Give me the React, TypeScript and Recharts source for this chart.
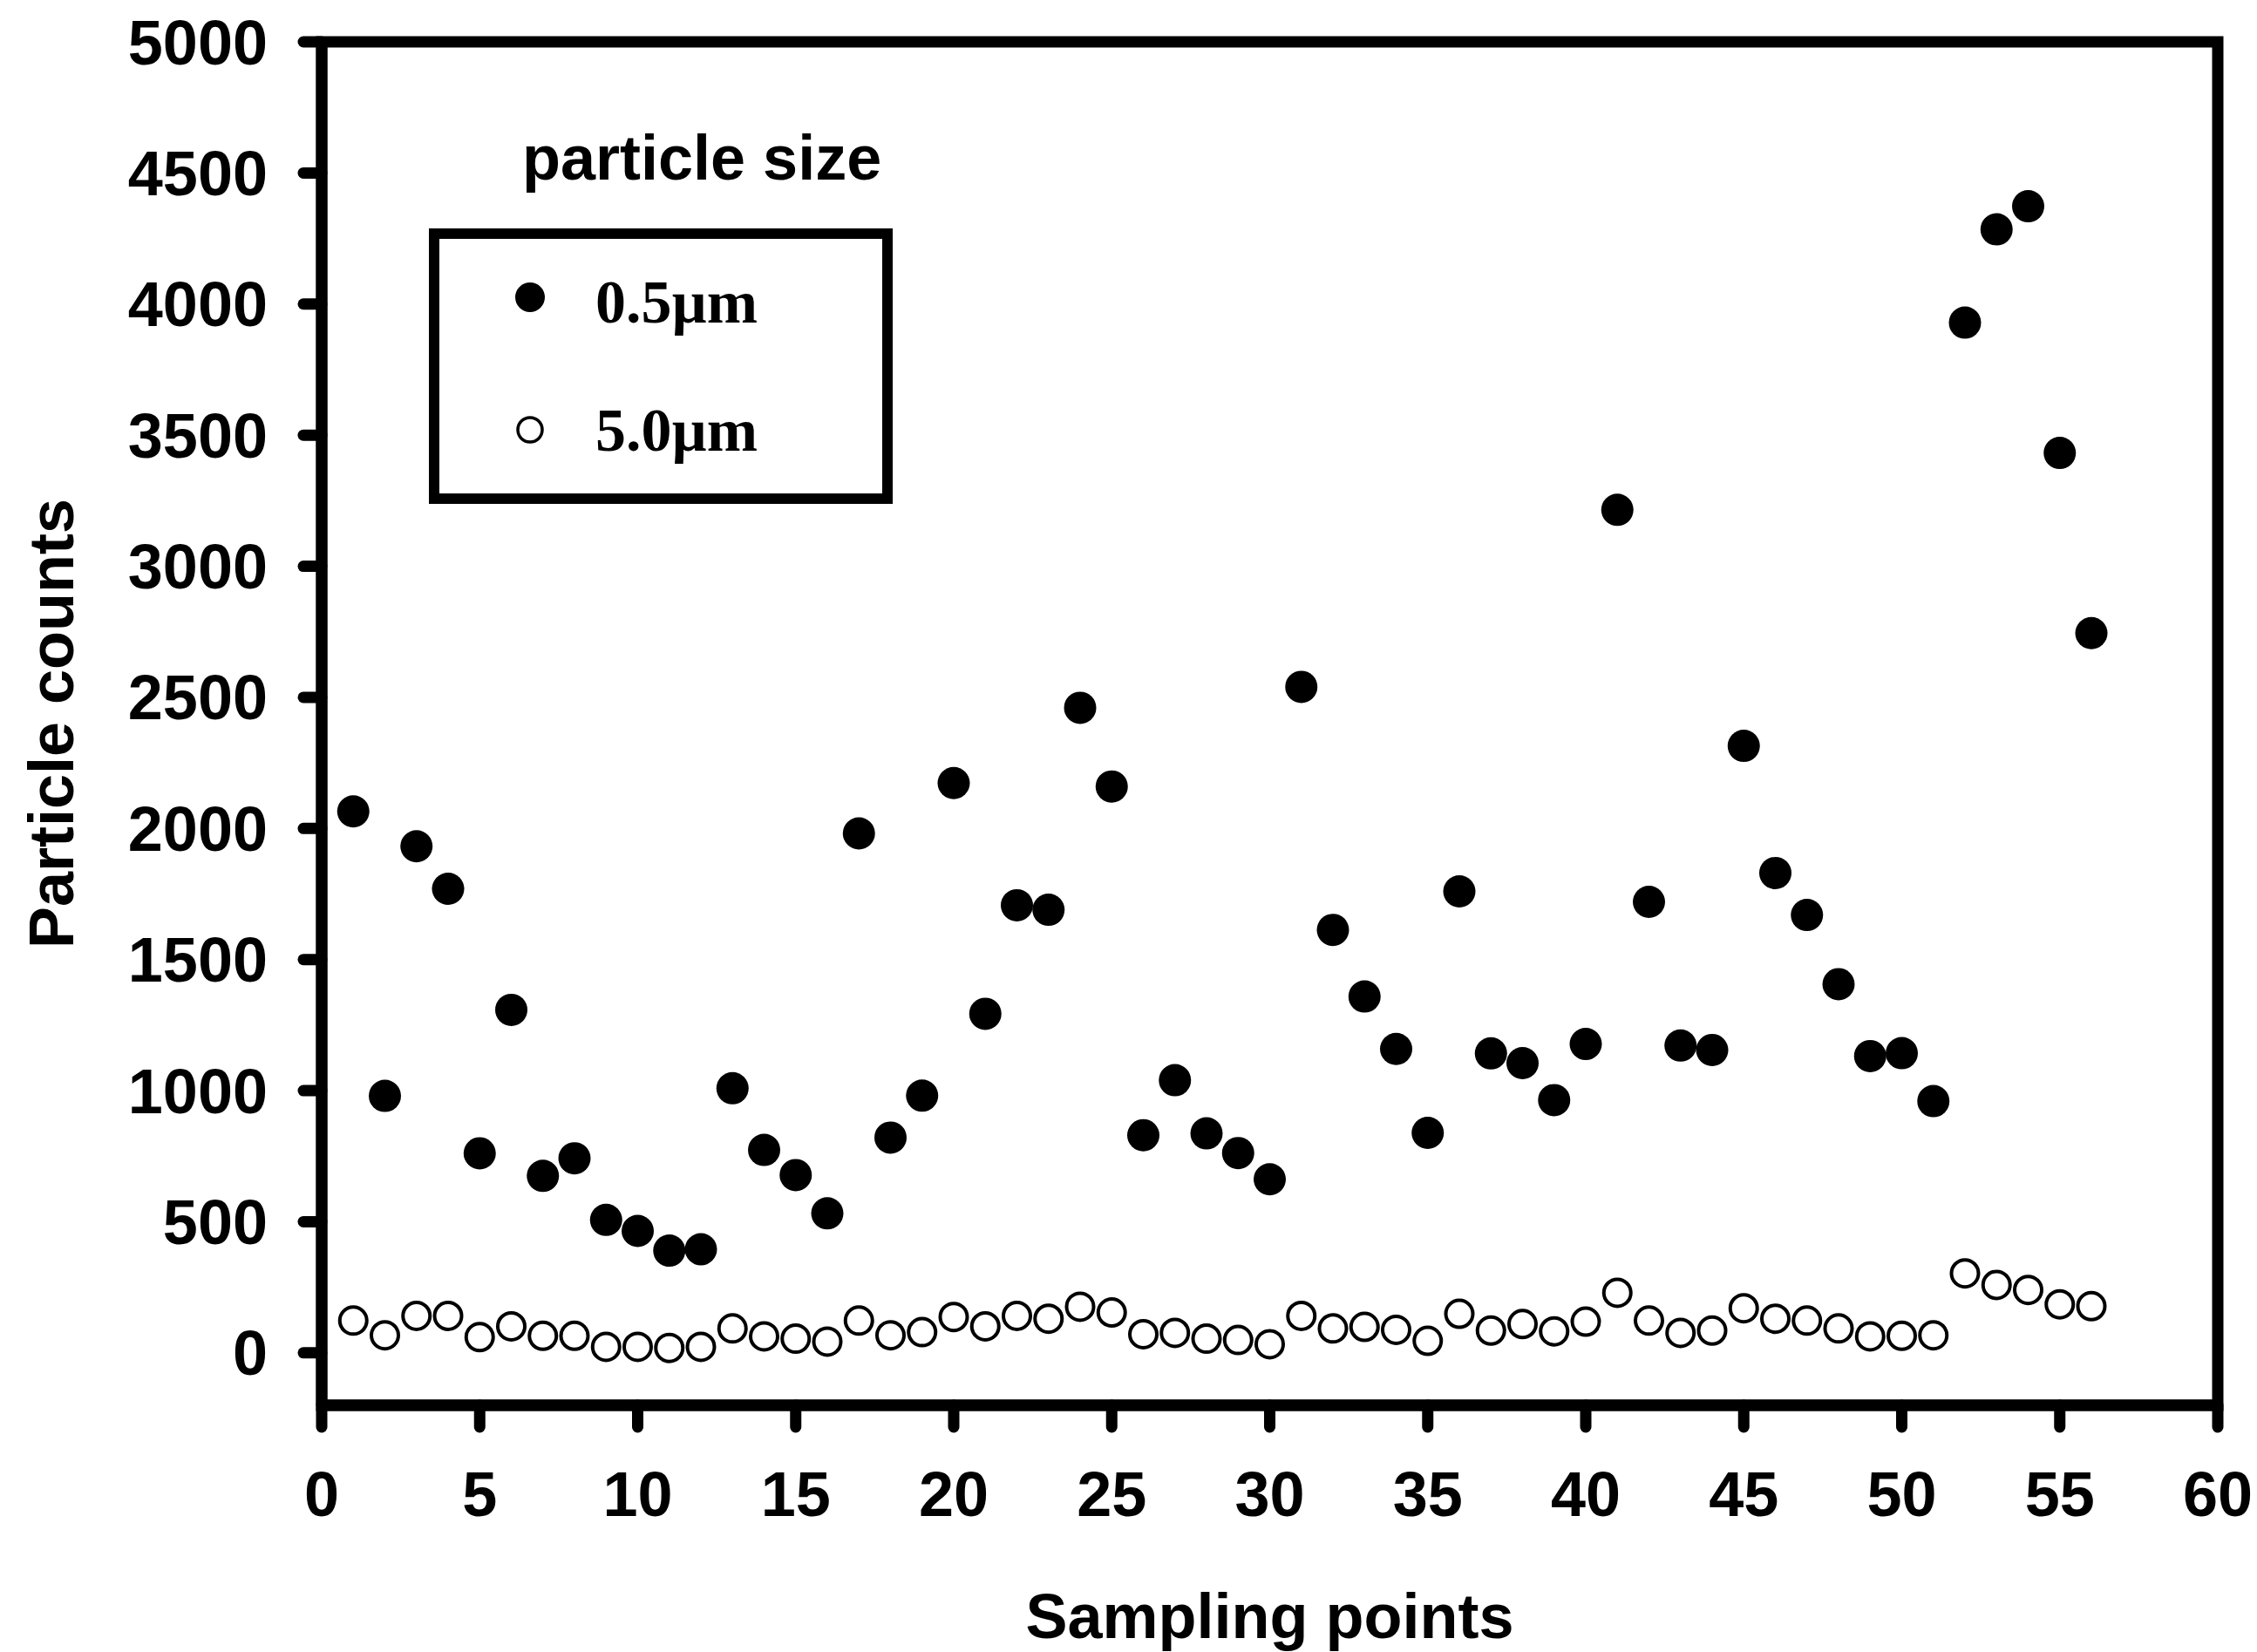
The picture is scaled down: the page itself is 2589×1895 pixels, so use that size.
/**
 * Particle counts at each sampling point, 0.5µm vs 5.0µm.
 * Black-and-white journal style: filled vs open markers, boxed frame,
 * boxed legend with a title sitting above the box.
 */
import { ScatterChart, Scatter, XAxis, YAxis, ReferenceArea, Legend } from 'recharts';

const samplingPoints = [
  1, 2, 3, 4, 5, 6, 7, 8, 9, 10, 11, 12, 13, 14, 15, 16, 17, 18, 19, 20,
  21, 22, 23, 24, 25, 26, 27, 28, 29, 30, 31, 32, 33, 34, 35, 36, 37, 38, 39, 40,
  41, 42, 43, 44, 45, 46, 47, 48, 49, 50, 51, 52, 53, 54, 55, 56,
];

const counts05 = [
  2065, 980, 1932, 1770, 761, 1308, 675, 742, 507, 465, 390, 395, 1009, 774, 678, 532,
  1981, 821, 981, 2173, 1293, 1707, 1690, 2460, 2160, 830, 1040, 837, 762, 662,
  2540, 1613, 1359, 1159, 839, 1760, 1142, 1105, 964, 1178, 3215, 1720, 1172, 1155,
  2315, 1830, 1670, 1406, 1132, 1143, 960, 3929, 4285, 4373, 3432, 2745,
];

const counts50 = [
  123, 67, 141, 141, 60, 101, 65, 65, 23, 23, 19, 23, 93, 63, 54, 43,
  123, 67, 79, 137, 101, 141, 130, 176, 154, 71, 76, 54, 49, 33,
  141, 93, 99, 88, 46, 149, 85, 110, 82, 119, 229, 123, 76, 85,
  170, 130, 123, 93, 63, 65, 67, 303, 259, 240, 185, 178,
];

const seriesNames = ['0.5µm', '5.0µm'];
const xTicks = [0, 5, 10, 15, 20, 25, 30, 35, 40, 45, 50, 55, 60];
const yTicks = [0, 500, 1000, 1500, 2000, 2500, 3000, 3500, 4000, 4500, 5000];

const fine = samplingPoints.map((x, i) => ({ x, y: counts05[i] }));
const coarse = samplingPoints.map((x, i) => ({ x, y: counts50[i] }));

const SANS = "'Liberation Sans', Arial, sans-serif";
const SERIF = "'Liberation Serif', 'Times New Roman', serif";
const LINE = 13;

const tick = { fill: '#000', fontSize: 72, fontWeight: 700, fontFamily: SANS };
const tickLine = { stroke: '#000', strokeWidth: LINE, strokeLinecap: 'round' as const };
const axisLine = { stroke: '#000', strokeWidth: LINE };

const FilledDot = (p: any) => <circle cx={p.cx} cy={p.cy} r={18.5} fill="#000" />;
const OpenDot = (p: any) => (
  <circle cx={p.cx} cy={p.cy} r={15.5} fill="none" stroke="#000" strokeWidth={4} />
);

// Boxed legend; the title floats above the box as in the original figure.
function BoxLegend(props: any) {
  const names = (props.payload ?? []).map((e: any) => e.value);
  const label = (i: number) => names[i] ?? seriesNames[i];
  return (
    <svg width={560} height={460} style={{ display: 'block' }}>
      <text x={119} y={76} fontFamily={SANS} fontWeight={700} fontSize={72} fill="#000">
        particle size
      </text>
      <rect x={18} y={138} width={520} height={304} fill="#fff" stroke="#000" strokeWidth={12} />
      <circle cx={128} cy={211} r={17} fill="#000" />
      <text x={203} y={240} fontFamily={SERIF} fontWeight={700} fontSize={70} fill="#000">
        {label(0)}
      </text>
      <circle cx={128} cy={363} r={14} fill="none" stroke="#000" strokeWidth={3.5} />
      <text x={203} y={387} fontFamily={SERIF} fontWeight={700} fontSize={70} fill="#000">
        {label(1)}
      </text>
    </svg>
  );
}

export default function App() {
  return (
    <div style={{ position: 'absolute', left: 0, top: 0, background: '#fff' }}>
      <ScatterChart width={2589} height={1895} margin={{ top: 48, right: 45, bottom: 7, left: 49 }}>
        <XAxis
          type="number"
          dataKey="x"
          domain={[0, 60]}
          ticks={xTicks}
          interval={0}
          height={276}
          tick={tick}
          tickLine={tickLine}
          axisLine={axisLine}
          tickSize={25}
          tickMargin={51}
          label={{
            value: 'Sampling points',
            position: 'insideBottom',
            offset: 9,
            style: { fill: '#000', fontSize: 72, fontWeight: 700, fontFamily: SANS },
          }}
        />
        <YAxis
          type="number"
          dataKey="y"
          domain={[-200, 5000]}
          ticks={yTicks}
          interval={0}
          width={320}
          tick={tick}
          tickLine={tickLine}
          axisLine={axisLine}
          tickSize={21}
          tickMargin={41}
          label={{
            value: 'Particle counts',
            angle: -90,
            position: 'insideLeft',
            offset: 9,
            style: { textAnchor: 'middle', fill: '#000', fontSize: 72, fontWeight: 700, fontFamily: SANS },
          }}
        />
        <ReferenceArea x1={0} x2={60} y1={-200} y2={5000} fill="none" stroke="#000" strokeWidth={LINE} />
        <Legend
          layout="vertical"
          align="center"
          verticalAlign="middle"
          content={<BoxLegend />}
          wrapperStyle={{ position: 'absolute', left: 480, top: 130, width: 560, height: 460 }}
        />
        <Scatter name={seriesNames[0]} data={fine} shape={FilledDot} isAnimationActive={false} />
        <Scatter name={seriesNames[1]} data={coarse} shape={OpenDot} isAnimationActive={false} />
      </ScatterChart>
    </div>
  );
}
